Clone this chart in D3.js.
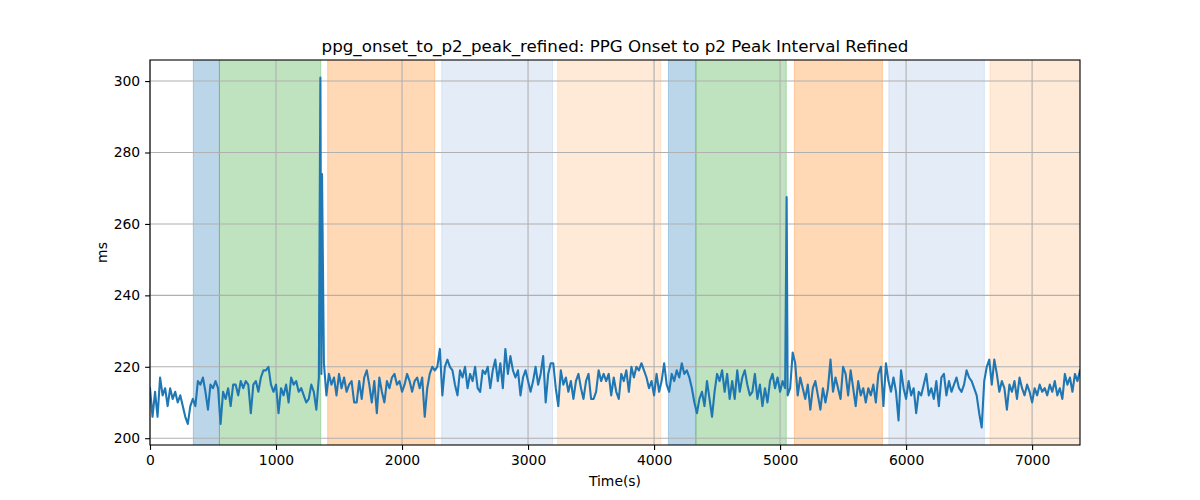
<!DOCTYPE html>
<html>
<head>
<meta charset="utf-8">
<script src="https://cdn.jsdelivr.net/npm/d3@7"></script>
<style>
  html, body { margin: 0; padding: 0; background: #fff; }
  svg { display: block; font-family: "DejaVu Sans", sans-serif; }
</style>
</head>
<body>
<svg id="chart" width="1200" height="500"></svg>
<script>
// ---- data ----
const chartTitle = "ppg_onset_to_p2_peak_refined: PPG Onset to p2 Peak Interval Refined";
const xLabel = "Time(s)";
const yLabel = "ms";
const sampleStep = 20; // seconds between samples
const values = [
  214,206,213,206,217,212,214,209,214,211,
  213,210,212,209,206,204,209,211,209,216,
  215,217,213,208,215,214,216,214,204,213,
  211,214,209,215,215,212,216,214,216,215,
  207,215,216,213,217,219,219,220,215,213,
  215,207,214,212,215,210,217,215,216,213,
  214,212,210,211,215,213,208,217,218,221,
  212,218,215,217,212,218,214,217,213,215,
  216,210,210,216,211,217,219,215,210,216,
  207,217,213,210,216,214,217,218,215,216,
  213,215,218,216,213,216,217,214,217,206,
  214,218,220,219,220,225,212,220,222,220,
  219,215,212,219,217,220,214,218,216,220,
  214,213,219,218,220,214,219,222,216,221,
  214,225,218,223,219,217,219,212,217,219,
  216,213,216,220,215,218,223,210,218,221,
  221,214,209,219,215,217,213,216,211,216,
  218,214,211,216,218,211,211,213,219,216,
  218,216,218,212,217,213,211,218,216,219,
  213,220,217,220,219,221,219,217,214,216,
  212,218,213,216,221,215,213,218,216,219,
  217,221,218,219,217,214,210,207,211,213,
  209,216,211,206,213,218,216,219,213,218,
  211,216,211,219,213,217,219,215,212,213,
  218,211,215,209,214,210,216,218,214,217,
  213,216,214,212,214,224,221,212,217,214,
  211,215,208,214,216,212,208,214,210,214,
  222,213,217,214,211,220,218,212,219,214,
  209,216,212,214,210,214,212,215,210,218,
  220,209,221,216,213,217,213,205,219,214,
  211,216,212,214,207,213,212,215,218,212,
  214,211,216,209,217,218,212,216,213,215,
  217,214,213,215,219,217,216,214,212,207,
  203,216,220,222,215,222,218,213,216,214,
  208,215,213,216,211,217,214,212,215,213,
  210,214,212,215,213,214,212,215,213,216,
  212,214,211,218,215,217,213,218,216,219
];
// isolated artefact samples between the regular ones
const spikeTimes = [1352, 1365, 5052];
const spikeValues = [301, 274, 267.5];

// shaded phases
const bandStarts = [344, 551, 1410, 2315, 3235, 4114, 4332, 5114, 5863, 6666];
const bandEnds   = [551, 1355, 2260, 3194, 4053, 4332, 5049, 5812, 6621, 7380];
const bandColors = ["#1f77b4", "#2ca02c", "#ff7f0e", "#7a9fd8", "#ff9f4a",
                    "#1f77b4", "#2ca02c", "#ff7f0e", "#7a9fd8", "#ff9f4a"];
const bandAlphas = [0.3, 0.3, 0.3, 0.2, 0.22, 0.3, 0.3, 0.3, 0.2, 0.22];

const xTicks = [0, 1000, 2000, 3000, 4000, 5000, 6000, 7000];
const yTicks = [200, 220, 240, 260, 280, 300];
const xMax = 7380;

// ---- build ----
const points = values.map((v, i) => ({ t: i * sampleStep, v }))
  .concat(spikeTimes.map((t, i) => ({ t, v: spikeValues[i] })))
  .sort((a, b) => a.t - b.t);

const W = 1200, H = 500;
const m = { left: 150, right: 1080, top: 60, bottom: 445 };
const svg = d3.select("#chart");

const yMin = d3.min(points, d => d.v), yMax = d3.max(points, d => d.v);
const pad = (yMax - yMin) * 0.05;

const x = d3.scaleLinear().domain([0, xMax]).range([m.left, m.right]);
const y = d3.scaleLinear().domain([yMin - pad, yMax + pad]).range([m.bottom, m.top]);

const defs = svg.append("defs");
defs.append("clipPath").attr("id", "clip")
  .append("rect").attr("x", m.left).attr("y", m.top)
  .attr("width", m.right - m.left).attr("height", m.bottom - m.top);

// bands
svg.append("g").attr("clip-path", "url(#clip)")
  .selectAll("rect").data(bandStarts).join("rect")
  .attr("x", (d) => x(d))
  .attr("width", (d, i) => x(bandEnds[i]) - x(d))
  .attr("y", y.range()[1] - 10)
  .attr("height", (m.bottom - m.top) + 20)
  .attr("fill", (d, i) => bandColors[i])
  .attr("fill-opacity", (d, i) => bandAlphas[i])
  .attr("stroke", (d, i) => bandColors[i])
  .attr("stroke-opacity", (d, i) => bandAlphas[i])
  .attr("stroke-width", 1);

// grid
const grid = svg.append("g");
grid.selectAll(".gx").data(xTicks).join("line")
  .attr("x1", d => x(d)).attr("x2", d => x(d))
  .attr("y1", m.top).attr("y2", m.bottom)
  .attr("stroke", "#b0b0b0").attr("stroke-width", 1.1);
grid.selectAll(".gy").data(yTicks).join("line")
  .attr("y1", d => y(d)).attr("y2", d => y(d))
  .attr("x1", m.left).attr("x2", m.right)
  .attr("stroke", "#b0b0b0").attr("stroke-width", 1.1);

// line
const line = d3.line().x(d => x(d.t)).y(d => y(d.v));
svg.append("path").datum(points)
  .attr("clip-path", "url(#clip)")
  .attr("d", line)
  .attr("fill", "none")
  .attr("stroke", "#1f77b4")
  .attr("stroke-width", 2.1)
  .attr("stroke-linejoin", "round")
  .attr("stroke-linecap", "square");

// axes
const xAxis = svg.append("g").attr("transform", `translate(0,${m.bottom})`)
  .call(d3.axisBottom(x).tickValues(xTicks).tickFormat(d3.format("d")).tickSizeOuter(0).tickSize(4.9).tickPadding(4.9));
const yAxis = svg.append("g").attr("transform", `translate(${m.left},0)`)
  .call(d3.axisLeft(y).tickValues(yTicks).tickFormat(d3.format("d")).tickSizeOuter(0).tickSize(4.9).tickPadding(4.9));
[xAxis, yAxis].forEach(g => {
  g.select(".domain").remove();
  g.selectAll("line").attr("stroke", "#000").attr("stroke-width", 1.1);
  g.selectAll("text").attr("fill", "#000").style("font-size", "13.9px")
    .style("font-family", "'DejaVu Sans', sans-serif");
});

// spines
svg.append("rect").attr("x", m.left).attr("y", m.top)
  .attr("width", m.right - m.left).attr("height", m.bottom - m.top)
  .attr("fill", "none").attr("stroke", "#000").attr("stroke-width", 1.1);

// labels
svg.append("text").attr("x", (m.left + m.right) / 2).attr("y", 486)
  .attr("text-anchor", "middle").style("font-size", "13.9px").text(xLabel);
svg.append("text").attr("transform", `translate(107,${(m.top + m.bottom) / 2}) rotate(-90)`)
  .attr("text-anchor", "middle").style("font-size", "13.9px").text(yLabel);
svg.append("text").attr("x", (m.left + m.right) / 2).attr("y", 52)
  .attr("text-anchor", "middle").style("font-size", "16.7px").text(chartTitle);
</script>
</body>
</html>
